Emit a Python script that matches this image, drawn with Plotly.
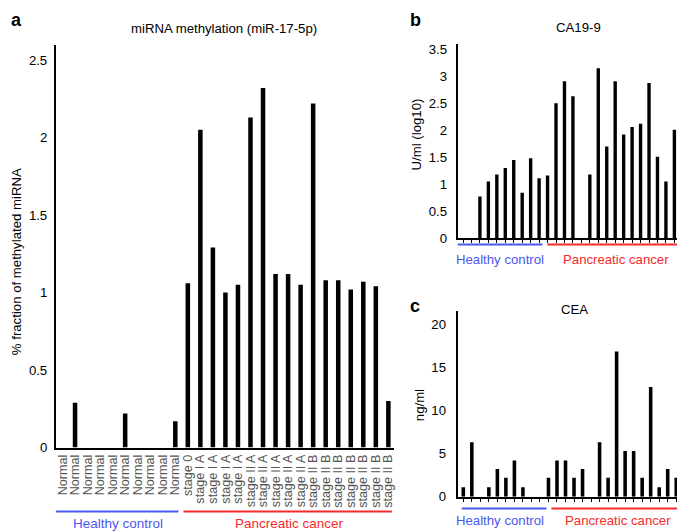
import plotly.graph_objects as go

W, H = 685, 531

# panel a: miRNA methylation (miR-17-5p)
mirna_labels = ['Normal'] * 10 + ['stage 0'] + ['stage I A'] * 4 + ['stage II A'] * 5 + ['stage II B'] * 7
mirna_healthy = [0, 0.29, 0, 0, 0, 0.22, 0, 0, 0, 0.17]
mirna_cancer = [1.06, 2.05, 1.29, 1.0, 1.05, 2.13, 2.32, 1.12, 1.12, 1.05, 2.22, 1.08, 1.08, 1.02, 1.07, 1.04, 0.30]

# panel b: CA19-9, U/ml (log10)
ca199_healthy = [0, 0, 0.77, 1.05, 1.18, 1.30, 1.45, 0.84, 1.48, 1.11]
ca199_cancer = [1.16, 2.50, 2.91, 2.63, 0, 1.18, 3.15, 1.70, 2.91, 1.92, 2.06, 2.12, 2.88, 1.51, 1.05, 2.01, 0]

# panel c: CEA, ng/ml
cea_healthy = [1.1, 6.3, 0, 1.1, 3.2, 2.2, 4.2, 1.1, 0, 0]
cea_cancer = [2.2, 4.2, 4.2, 2.2, 3.2, 0, 6.3, 2.2, 16.8, 5.3, 5.3, 2.2, 12.7, 1.1, 3.2, 2.2, 7.4]

FONT = 'Liberation Sans, Arial, sans-serif'
FS = 13.2
BLUE = '#4a58ee'
RED = '#f52a2a'


def px(x):
    return x / W


def py(y):
    return 1 - y / H


fig = go.Figure()

n = len(mirna_labels)
fig.add_trace(go.Bar(x=list(range(n)), y=mirna_healthy + mirna_cancer, width=0.36,
                     marker=dict(color='black', line_width=0), xaxis='x', yaxis='y'))
fig.add_trace(go.Bar(x=list(range(n)), y=ca199_healthy + ca199_cancer, width=0.4,
                     marker=dict(color='black', line_width=0), xaxis='x2', yaxis='y2'))
fig.add_trace(go.Bar(x=list(range(n)), y=cea_healthy + cea_cancer, width=0.42,
                     marker=dict(color='black', line_width=0), xaxis='x3', yaxis='y3'))

axis_common = dict(showline=True, linecolor='black', linewidth=2, showgrid=False, zeroline=False)

fig.update_layout(
    width=W, height=H, margin=dict(l=0, r=0, t=0, b=0),
    plot_bgcolor='white', paper_bgcolor='white', showlegend=False,
    font=dict(family=FONT, size=FS, color='black'),
    xaxis=dict(domain=[px(48), px(387)], range=[-0.53, 26.44], anchor='y',
               tickmode='array', tickvals=list(range(n)), ticktext=mirna_labels,
               tickangle=-90, tickfont=dict(color='#555555', size=12.6), ticks='',
               ticklabelstandoff=0, **axis_common),
    yaxis=dict(domain=[py(446), py(36)], range=[0, 410 / 158], anchor='x',
               tickvals=[0, 0.5, 1, 1.5, 2, 2.5], ticktext=['0', '0.5', '1', '1.5', '2', '2.5'],
               ticks='', ticklabelstandoff=4, **axis_common),
    xaxis2=dict(domain=[px(451), px(683)], range=[-0.63, 26.73], anchor='y2',
                tickvals=list(range(n)), showticklabels=False, ticks='outside', ticklen=3,
                tickwidth=1, tickcolor='black', **axis_common),
    yaxis2=dict(domain=[py(232.5), py(35)], range=[0, 197 / 54.8], anchor='x2',
                tickvals=[0, 0.5, 1, 1.5, 2, 2.5, 3, 3.5],
                ticktext=['0', '0.5', '1', '1.5', '2', '2.5', '3', '3.5'],
                ticks='', ticklabelstandoff=6, **axis_common),
    xaxis3=dict(domain=[px(451), px(683)], range=[-0.66, 26.5], anchor='y3',
                tickvals=list(range(n)), showticklabels=False, ticks='outside', ticklen=3,
                tickwidth=1, tickcolor='black', **axis_common),
    yaxis3=dict(domain=[py(496), py(307)], range=[0, 189 / 8.8], anchor='x3',
                tickvals=[0, 5, 10, 15, 20], ticks='', ticklabelstandoff=7, **axis_common),
)

# group brackets under the axes
groups = [
    (48, 171, 511, 110, 523, 176, 385, 282, 13.5),
    (451, 536, 239, 493, 254, 541, 678, 610, FS),
    (455, 540, 508, 493, 520, 545, 680, 612, FS),
]
for bx0, bx1, ly, btx, ty, rx0, rx1, rtx, fs in groups:
    fig.add_shape(type='line', xref='paper', yref='paper', x0=px(bx0), x1=px(bx1), y0=py(ly), y1=py(ly),
                  line=dict(color=BLUE, width=2))
    fig.add_shape(type='line', xref='paper', yref='paper', x0=px(rx0), x1=px(rx1), y0=py(ly), y1=py(ly),
                  line=dict(color=RED, width=2))
    fig.add_annotation(x=px(btx), y=py(ty), xref='paper', yref='paper', text='Healthy control',
                       showarrow=False, font=dict(color=BLUE, size=fs), xanchor='center', yanchor='middle')
    fig.add_annotation(x=px(rtx), y=py(ty), xref='paper', yref='paper', text='Pancreatic cancer',
                       showarrow=False, font=dict(color=RED, size=fs), xanchor='center', yanchor='middle')

# titles, panel letters, y axis titles
texts = [
    ('<b>a</b>', 1, 10, 18, 'left', 0),
    ('miRNA methylation (miR-17-5p)', 217, 19, FS, 'center', 0),
    ('<b>b</b>', 401, 10, 18, 'left', 0),
    ('CA19-9', 572, 18, FS, 'center', 0),
    ('<b>c</b>', 401, 302, 18, 'left', 0),
    ('CEA', 568, 305, FS, 'center', 0),
    ('% fraction of methylated miRNA', 8, 256, FS, 'center', -90),
    ('U/ml (log10)', 410, 127, FS, 'center', -90),
    ('ng/ml', 413, 403, FS, 'center', -90),
]
for t, x, y, fs, xa, ang in texts:
    fig.add_annotation(x=px(x), y=py(y), xref='paper', yref='paper', text=t, showarrow=False,
                       font=dict(size=fs, color='black'), xanchor=xa, yanchor='middle', textangle=ang)

fig.write_html("out.html")
